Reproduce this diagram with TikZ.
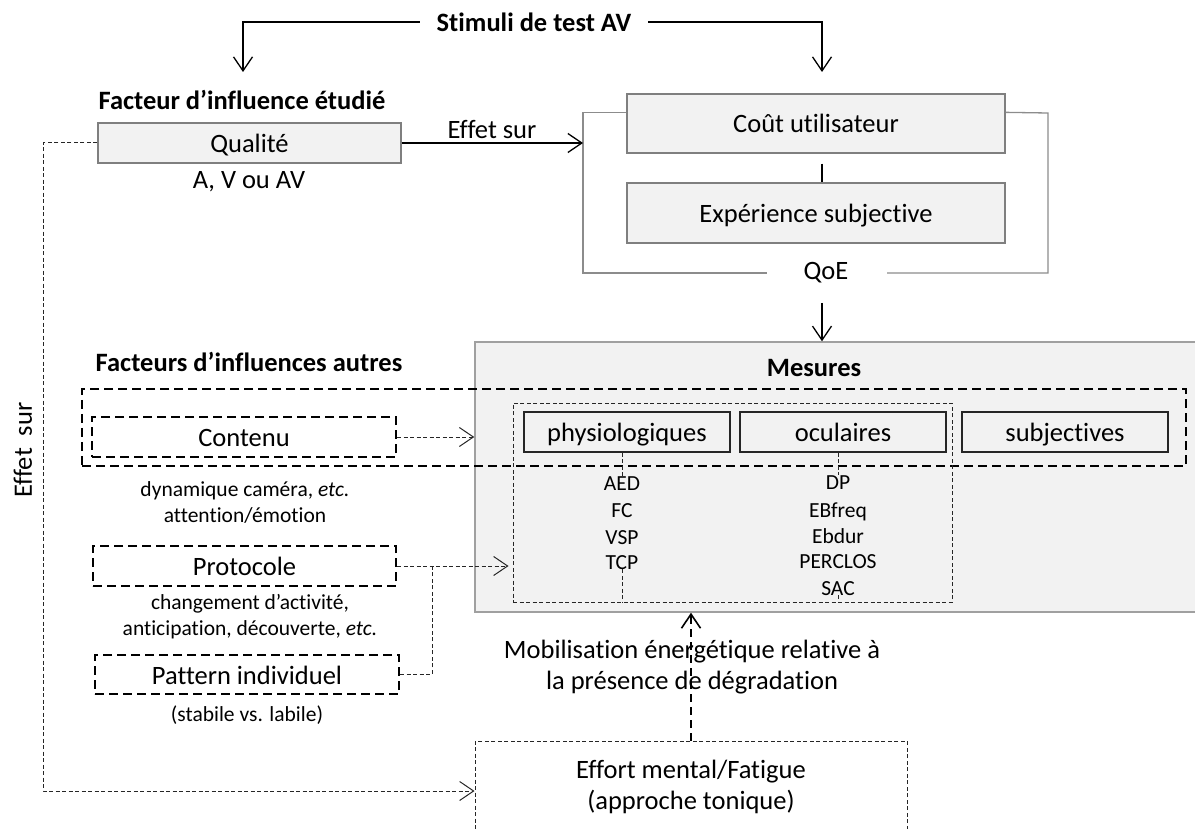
\documentclass[tikz,border=0pt]{standalone}
\usepackage{fontspec}
\setmainfont{Carlito}[Ligatures={NoCommon}]
\usetikzlibrary{arrows.meta,calc}
\definecolor{boxfill}{HTML}{F2F2F2}
\definecolor{boxline}{HTML}{7F7F7F}
\definecolor{mesline}{HTML}{A0A0A0}
\definecolor{brkline}{HTML}{8C8C8C}
\newcommand{\myLfont}{\fontsize{26.5}{31.5}\selectfont}
\newcommand{\mySfont}{\fontsize{21.5}{26}\selectfont}
\begin{document}
\begin{tikzpicture}[x=1pt,y=-1pt,
  openhead/.style={-{Straight Barb[length=14pt,width=19pt]}},
  sline/.style={draw=black,line width=1.3pt},
  sarr/.style={sline,openhead},
  brk/.style={draw=brkline,line width=1.3pt},
  dline/.style={draw=black!85,line width=1pt,dash pattern=on 4pt off 2.5pt},
  darr/.style={dline,openhead},
  marr/.style={draw=black,line width=1.6pt,dash pattern=on 8pt off 5pt,openhead},
  boxtext/.style={text height=20pt,text depth=1pt},
  gbox/.style={draw=boxline,fill=boxfill,line width=1.3pt,inner sep=0pt,font=\myLfont,boxtext},
  mbox/.style={draw=black!85,fill=boxfill,line width=1.3pt,inner sep=0pt,minimum width=206pt,minimum height=40pt,font=\myLfont,boxtext},
  bigdash/.style={draw=black,line width=2.4pt,dash pattern=on 9pt off 5pt,inner sep=0pt,font=\myLfont},
  finedash/.style={draw=black!85,line width=1pt,dash pattern=on 4pt off 2.5pt,inner sep=0pt},
  lbl/.style={inner sep=0pt,font=\myLfont},
  slbl/.style={inner sep=0pt,font=\mySfont},
  hdr/.style={inner sep=0pt,font=\myLfont\bfseries},
  item/.style={inner sep=0pt,font=\mySfont,anchor=base}
]
\path[use as bounding box] (0,0) rectangle (1195,829);
\clip (0,0) rectangle (1195,829);

% Mesures block
\node[draw=mesline,fill=boxfill,line width=1.5pt,minimum width=728pt,minimum height=270pt,inner sep=0pt] (mesbox) at (839,477) {};
\node[hdr] (mes) at (814,368) {Mesures};
\node[bigdash,minimum width=1104pt,minimum height=77pt] (oth) at (634,427.5) {};
\node[finedash,minimum width=439pt,minimum height=199pt] (inner) at (732.5,502.5) {};
\node[mbox] (physio) at (627,432) {physiologiques};
\node[mbox] (ocul) at (843,432) {oculaires};
\node[mbox] (subj) at (1065,432) {subjectives};

\node[item] (aed) at (622,490) {AED};
\node[item] (fc) at (622,517) {FC};
\node[item] (vsp) at (622,544) {VSP};
\node[item] (tcp) at (622,569) {TCP};
\node[item] (dp) at (838,489) {DP};
\node[item] (ebf) at (838,517) {EBfreq};
\node[item] (ebd) at (838,543) {Ebdur};
\node[item] (perc) at (838,568) {PERCLOS};
\node[item] (sac) at (838,595) {SAC};

\draw[dline] (physio.south -| aed.north) -- (aed.north);
\draw[dline] (ocul.south -| dp.north) -- (dp.north);
\draw[dline] (tcp.south) -- (tcp.south |- inner.south);
\draw[dline] (sac.south) -- (sac.south |- inner.south);

% top part
\node[hdr,inner xsep=17pt] (stim) at (534,22) {Stimuli de test AV};
\node[hdr] (fie) at (242,100) {Facteur d’influence étudié};
\node[gbox,minimum width=303pt,minimum height=40pt] (qual) at (249.5,143) {Qualité};
\node[lbl] (avs) at (249,182) {A, V ou AV};
\node[gbox,minimum width=378pt,minimum height=59pt] (cout) at (816,123.5) {Coût utilisateur};
\node[gbox,minimum width=378pt,minimum height=60pt] (exper) at (816,213) {Expérience subjective};
\node[lbl] (qoe) at (826,273) {QoE};
\node[lbl] (effl) at (492,130) {Effet sur};

\coordinate (qin) at (243,72);
\coordinate (cin) at (822,72);
\coordinate (cx) at (822,0);
\coordinate (brl) at (583,273);
\coordinate (brr) at (1048,113);
\coordinate (qoel) at (767,273);
\coordinate (qoer) at (887,273);
\coordinate (qoeo) at (822,303);

\draw[sarr] (stim.west) -| (qin);
\draw[sarr] (stim.east) -| (cin);
\draw[brk] ([yshift=-19pt]cout.north west) -| (brl) -- (qoel);
\draw[brk] (qoer) -| (brr) -- ([yshift=-19pt]cout.north east);
\draw[sarr] (qual.east) -- (qual.east -| brl);
\draw[sline] (cout.south -| cx) ++(0,10) -- (exper.north -| cx);
\draw[sarr] (qoeo) -- (qoeo |- mesbox.north);

% left part
\node[hdr] (fia) at (249,362) {Facteurs d’influences autres};
\node[bigdash,boxtext,minimum width=304pt,minimum height=40pt] (cont) at (244,437) {Contenu};
\node[slbl,align=center] (contd) at (245,502.5) {dynamique caméra, \textit{etc.}\\attention/émotion};
\node[bigdash,boxtext,minimum width=303pt,minimum height=40pt] (proto) at (244.5,566) {Protocole};
\node[slbl,align=center] (protod) at (250,616.5) {changement d’activité,\\anticipation, découverte, \textit{etc.}};
\node[bigdash,boxtext,minimum width=304pt,minimum height=39pt] (patt) at (247,674.5) {Pattern individuel};
\node[slbl] (pattd) at (247,715) {(stabile vs. labile)};
\node[lbl,rotate=90] (effv) at (23,450) {Effet\ \ sur};

% bottom
\node[finedash,minimum width=432pt,minimum height=92pt,align=center,font=\myLfont] (effort) at (691,787) {Effort mental/Fatigue\\(approche tonique)};
\node[lbl,align=center] (mobil) at (692,667) {Mobilisation énergétique relative à\\la présence de dégradation};

\coordinate (pj) at (432,566);
\coordinate (lc) at (43,791);
\draw[darr] (cont.east) -- (cont.east -| mesbox.west);
\draw[darr] (proto.east) -- ([xshift=-4pt]proto.east -| inner.west);
\draw[dline] (patt.east) -| (pj);
\draw[darr] (qual.west) -| (lc) -- (lc -| effort.west);
\draw[marr] (effort.north) -- (effort.north |- mesbox.south);
\end{tikzpicture}
\end{document}
